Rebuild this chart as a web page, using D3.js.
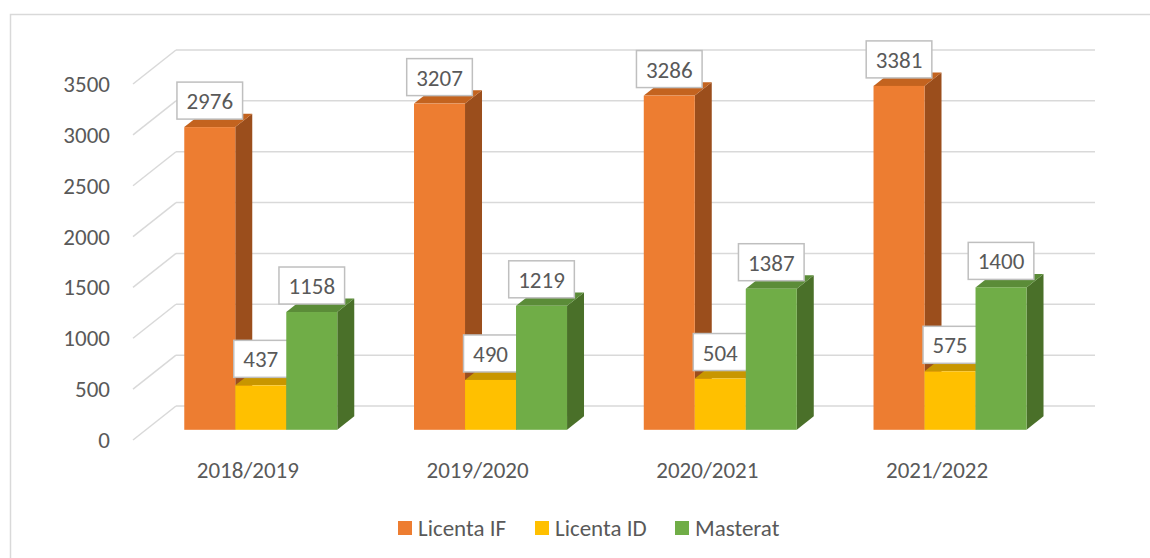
<!DOCTYPE html>
<html>
<head>
<meta charset="utf-8">
<script src="https://cdn.jsdelivr.net/npm/d3@7"></script>
<style>
  body { margin: 0; background: #fff; }
  text { font-family: Calibri, Carlito, Lato, sans-serif; fill: #595959; }
</style>
</head>
<body>
<svg id="chart" width="1150" height="558"></svg>
<script>
const years = ["2018/2019", "2019/2020", "2020/2021", "2021/2022"];
const seriesNames = ["Licenta IF", "Licenta ID", "Masterat"];
const licentaIF = [2976, 3207, 3286, 3381];
const licentaID = [437, 490, 504, 575];
const masterat = [1158, 1219, 1387, 1400];
const yTicks = [0, 500, 1000, 1500, 2000, 2500, 3000, 3500];

const colors = [
  { front: "#ED7D31", top: "#C3631F", side: "#9B4E1C" },
  { front: "#FFC000", top: "#C89600", side: "#A67C00" },
  { front: "#70AD47", top: "#5B8C38", side: "#4A7029" }
];
const gridColor = "#d9d9d9";
const fontSize = "23px";

// depth: 0 = back wall, 1 = front edge of floor (axis plane)
const depthDX = -43, depthDY = 34;
const barFront = 0.70, barBack = 0.305;
const wallZero = 406;

const svg = d3.select("#chart");

// outer border
svg.append("rect")
  .attr("x", 10.5).attr("y", 14.5)
  .attr("width", 1200).attr("height", 600)
  .style("fill", "none")
  .style("stroke", gridColor)
  .style("stroke-width", "1.5px");

let x0 = d3.scaleBand().domain(years).range([176, 1095])
  .paddingInner(0.334).paddingOuter(0.167);
let x1 = d3.scaleBand().domain(seriesNames).range([0, x0.bandwidth()]);
let yScale = d3.scaleLinear().domain([0, 3500]).range([0, 356]);

function px(x, d) { return x + depthDX * d; }
function py(v, d) { return wallZero - yScale(v) + depthDY * d; }

// gridlines: back wall + side diagonals
svg.selectAll(".gridWall")
  .data(yTicks)
  .enter()
  .append("line")
    .attr("x1", 176).attr("x2", 1095)
    .attr("y1", d => py(d, 0)).attr("y2", d => py(d, 0))
    .style("stroke", gridColor)
    .style("stroke-width", "1.5px");
svg.selectAll(".gridSide")
  .data(yTicks)
  .enter()
  .append("line")
    .attr("x1", px(176, 1)).attr("x2", 176)
    .attr("y1", d => py(d, 1)).attr("y2", d => py(d, 0))
    .style("stroke", gridColor)
    .style("stroke-width", "1.5px");

// y axis labels
svg.selectAll(".yLabel")
  .data(yTicks)
  .enter()
  .append("text")
    .attr("x", 110)
    .attr("y", d => py(d, 1))
    .attr("dy", "0.35em")
    .text(d => d)
    .style("text-anchor", "end")
    .style("font-size", fontSize);

// bars
let allSeries = [licentaIF, licentaID, masterat];
let bars = [];
years.forEach(function(yr, i) {
  allSeries.forEach(function(s, j) {
    bars.push({ year: yr, series: seriesNames[j], idx: j, value: s[i] });
  });
});

let barG = svg.selectAll(".bar")
  .data(bars)
  .enter()
  .append("g");

barG.each(function(d) {
  let g = d3.select(this);
  let xl = x0(d.year) + x1(d.series);
  let xr = xl + x1.bandwidth();
  let c = colors[d.idx];
  // side face
  g.append("path")
    .attr("d", d3.line()([
      [px(xr, barFront), py(0, barFront)],
      [px(xr, barBack), py(0, barBack)],
      [px(xr, barBack), py(d.value, barBack)],
      [px(xr, barFront), py(d.value, barFront)]
    ]) + "Z")
    .style("fill", c.side);
  // top face
  g.append("path")
    .attr("d", d3.line()([
      [px(xl, barFront), py(d.value, barFront)],
      [px(xr, barFront), py(d.value, barFront)],
      [px(xr, barBack), py(d.value, barBack)],
      [px(xl, barBack), py(d.value, barBack)]
    ]) + "Z")
    .style("fill", c.top);
  // front face
  g.append("rect")
    .attr("x", px(xl, barFront))
    .attr("y", py(d.value, barFront))
    .attr("width", x1.bandwidth())
    .attr("height", yScale(d.value))
    .style("fill", c.front);
});

// data labels
barG.each(function(d) {
  let g = d3.select(this);
  let cx = px(x0(d.year) + x1(d.series) + x1.bandwidth() / 2, barFront);
  let bottom = py(d.value, barFront) - 8;
  let t = g.append("text")
    .attr("x", cx)
    .attr("y", bottom - 18)
    .attr("dy", "0.35em")
    .text(d.value)
    .style("text-anchor", "middle")
    .style("font-size", fontSize);
  let w = t.node().getComputedTextLength() + 19;
  g.insert("rect", "text")
    .attr("x", cx - w / 2)
    .attr("y", bottom - 37)
    .attr("width", w)
    .attr("height", 37)
    .style("fill", "#fff")
    .style("stroke", "#bfbfbf")
    .style("stroke-width", "1.5px");
});

// x axis labels
svg.selectAll(".xLabel")
  .data(years)
  .enter()
  .append("text")
    .attr("x", d => px(x0(d) + x0.bandwidth() / 2, 1))
    .attr("y", 470)
    .attr("dy", "0.35em")
    .text(d => d)
    .style("text-anchor", "middle")
    .style("font-size", fontSize);

// legend
let legendX = [398, 535, 675];
let legend = svg.selectAll(".legend")
  .data(seriesNames)
  .enter()
  .append("g")
    .attr("transform", (d, i) => "translate(" + legendX[i] + ",521)");
legend.append("rect")
  .attr("width", 14).attr("height", 14)
  .style("fill", (d, i) => colors[i].front);
legend.append("text")
  .attr("x", 20).attr("y", 7)
  .attr("dy", "0.35em")
  .text(d => d)
  .style("font-size", fontSize);
</script>
</body>
</html>
